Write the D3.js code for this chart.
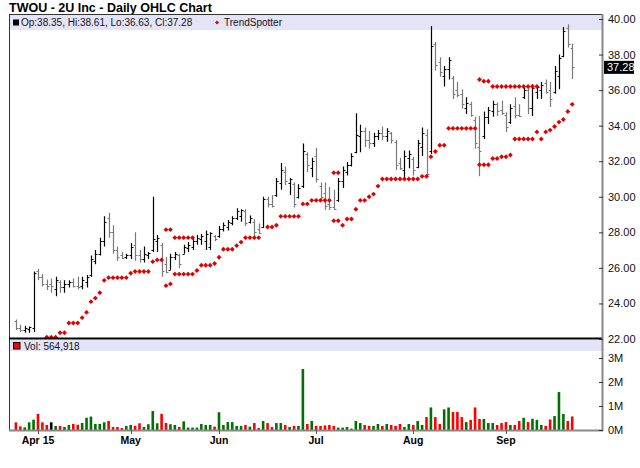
<!DOCTYPE html>
<html>
<head>
<meta charset="utf-8">
<script src="https://cdn.jsdelivr.net/npm/d3@7/dist/d3.min.js"></script>
<style>
  body { margin: 0; background: #fff; }
  text { font-family: "Liberation Sans", Arial, sans-serif; }
</style>
</head>
<body>
<svg id="chart" width="640" height="468"></svg>
<script>
var title = 'TWOU - 2U Inc - Daily OHLC Chart';
var firstDay = new Date(2015, 2, 25), lastDay = new Date(2015, 8, 23);
var holidays = ['2015-04-03', '2015-05-25', '2015-07-03', '2015-09-07'];
var _ = null;

var opens = [
  23.0, 22.6, 22.5, 22.55, 22.6, 25.8, 25.5, 25.1, 25.1, 24.8,
  25.2, 24.9, 25.1, 25.2, 25.0, 25.0, 25.2, 25.6, 26.4, 26.8,
  27.5, 28.8, 28.0, 27.0, 26.7, 26.6, 26.7, 27.3, 26.7, 26.5,
  26.7, 27.0, 27.5, 27.3, 26.2, 25.9, 26.6, 26.7, 26.8, 27.1,
  27.2, 27.5, 27.6, 27.5, 27.2, 27.8, 27.8, 28.2, 28.3, 28.5,
  28.8, 28.9, 29.2, 28.6, 28.6, 28.2, 28.3, 29.9, 29.6, 30.1,
  30.8, 31.4, 30.8, 30.7, 30.0, 30.6, 32.4, 31.6, 32.3, 30.6,
  30.2, 29.6, 29.4, 29.8, 30.9, 31.4, 31.8, 32.5, 33.4, 33.7,
  33.2, 33.0, 33.4, 33.6, 33.4, 33.6, 33.1, 31.9, 31.5, 32.2,
  32.1, 31.7, 32.8, 33.5, 32.6, 38.6, 37.6, 36.8, 37.2, 36.7,
  36.0, 35.8, 35.0, 35.2, 34.3, 32.8, 33.4, 34.5, 34.8, 35.2,
  34.9, 34.6, 34.2, 35.1, 34.6, 35.6, 36.0, 35.0, 35.9, 36.0,
  36.4, 36.0, 35.9, 36.8, 37.9, 39.5, 38.35
];
var highs = [
  23.1, 22.8, 22.75, 22.7, 25.8, 25.95, 25.65, 25.35, 25.4, 25.5,
  25.3, 25.3, 25.3, 25.4, 25.5, 25.5, 25.6, 26.7, 27.0, 27.7,
  28.9, 29.1, 28.4, 27.2, 26.9, 26.8, 27.4, 28.0, 27.0, 27.2,
  26.9, 30.0, 27.85, 27.4, 26.6, 26.8, 26.9, 26.8, 27.3, 27.45,
  27.7, 27.85, 27.9, 28.1, 28.0, 27.85, 28.35, 28.55, 28.7, 28.9,
  29.35, 29.3, 29.3, 28.95, 28.75, 28.5, 30.0, 30.0, 30.1, 31.05,
  31.9, 31.7, 31.05, 30.8, 30.7, 33.0, 32.5, 32.2, 32.75, 30.8,
  30.8, 30.55, 30.4, 31.05, 31.7, 31.95, 32.45, 34.7, 34.05, 33.9,
  33.7, 33.6, 33.75, 33.95, 33.85, 33.65, 33.2, 32.2, 32.6, 32.6,
  32.25, 33.2, 33.9, 33.8, 39.6, 38.7, 37.85, 37.35, 37.85, 36.8,
  36.45, 36.05, 35.6, 35.35, 34.5, 34.55, 34.8, 35.05, 35.4, 35.3,
  35.4, 34.75, 35.2, 35.6, 35.2, 36.2, 36.25, 36.35, 36.25, 36.45,
  36.6, 36.45, 37.35, 38.0, 39.55, 39.7, 38.61
];
var lows = [
  22.5, 22.4, 22.35, 22.35, 22.4, 25.3, 24.95, 24.75, 24.6, 24.4,
  24.6, 24.6, 24.9, 24.9, 24.8, 24.8, 24.9, 25.5, 26.2, 26.7,
  27.2, 27.7, 26.8, 26.4, 26.5, 26.5, 26.5, 26.4, 26.3, 26.3,
  26.5, 26.9, 26.9, 25.5, 25.7, 25.9, 26.45, 26.0, 26.8, 26.9,
  27.0, 27.3, 27.3, 27.0, 27.0, 27.5, 27.7, 28.05, 28.1, 28.4,
  28.7, 28.6, 28.35, 28.5, 27.7, 27.9, 28.25, 29.4, 29.4, 30.0,
  30.4, 30.65, 30.1, 29.4, 29.9, 30.5, 31.4, 31.1, 30.8, 29.8,
  29.25, 29.25, 29.25, 29.7, 30.5, 31.2, 31.7, 32.45, 32.5, 32.8,
  32.7, 32.8, 33.2, 33.2, 33.1, 33.0, 31.5, 31.5, 31.05, 31.6,
  31.2, 31.6, 32.3, 31.1, 32.4, 37.1, 36.75, 36.2, 36.6, 35.5,
  35.6, 34.95, 34.65, 34.5, 32.7, 31.15, 33.25, 34.1, 34.5, 34.55,
  34.6, 33.65, 34.1, 34.4, 34.5, 35.5, 34.65, 34.55, 35.5, 35.5,
  35.8, 35.05, 35.8, 36.05, 37.85, 38.4, 36.63
];
var closes = [
  22.6, 22.5, 22.6, 22.65, 25.7, 25.5, 25.1, 25.0, 25.0, 25.3,
  24.9, 25.1, 25.2, 25.0, 24.95, 25.3, 25.5, 26.5, 26.8, 27.5,
  28.6, 28.0, 27.0, 26.6, 26.55, 26.7, 27.2, 26.7, 26.5, 26.8,
  26.85, 27.6, 27.7, 25.8, 25.75, 26.6, 26.8, 26.2, 27.2, 27.3,
  27.5, 27.7, 27.8, 27.9, 27.95, 27.6, 28.2, 28.4, 28.6, 28.8,
  29.2, 29.25, 28.5, 28.8, 28.0, 27.95, 29.9, 29.6, 29.5, 30.9,
  31.5, 30.9, 31.0, 29.6, 30.5, 32.6, 31.8, 32.0, 31.0, 30.0,
  29.5, 29.4, 29.3, 30.9, 31.5, 31.8, 32.3, 33.5, 33.7, 33.2,
  33.0, 33.4, 33.6, 33.4, 33.7, 33.2, 31.8, 31.6, 32.3, 32.4,
  31.5, 33.0, 33.6, 31.3, 38.5, 37.4, 37.0, 37.2, 37.7, 35.8,
  35.7, 35.2, 35.3, 34.6, 33.0, 32.6, 34.5, 34.9, 35.2, 34.8,
  34.7, 33.9, 35.0, 34.6, 34.55, 36.0, 35.0, 36.1, 36.2, 36.3,
  35.9, 35.5, 37.1, 37.8, 39.3, 38.6, 37.28
];
// volume in thousands of shares
var volumes = [
  320, 150, 110, 320, 430, 670, 320, 210, 320, 170,
  170, 125, 210, 250, 220, 290, 510, 560, 250, 250,
  320, 375, 125, 125, 80, 170, 210, 170, 280, 125,
  240, 790, 280, 670, 290, 240, 210, 125, 360, 100,
  100, 100, 250, 210, 210, 140, 740, 210, 330, 330,
  170, 170, 210, 140, 290, 80, 375, 290, 125, 290,
  290, 210, 125, 170, 170, 2540, 250, 375, 170, 170,
  190, 210, 170, 100, 100, 125, 60, 375, 290, 210,
  170, 170, 250, 170, 250, 210, 170, 250, 125, 250,
  210, 375, 210, 540, 940, 540, 250, 860, 940, 750,
  750, 540, 330, 420, 940, 460, 460, 290, 290, 210,
  290, 330, 210, 210, 375, 510, 330, 470, 420, 210,
  170, 440, 580, 1580, 670, 375, 564.918
];
var trendLower = [
  _, _, _, _, _, _, _, 22.1, 22.1, 22.1,
  22.35, 22.35, 22.9, 22.9, 22.9, 23.2, 23.5, 24.1, 24.3, 24.6,
  25.3, 25.45, 25.45, 25.45, 25.45, 25.45, 25.7, 25.8, 25.8, 25.8,
  25.8, 26.35, 26.45, 26.45, 25.0, 25.1, 25.65, 25.65, 25.65, 25.65,
  25.65, 25.85, 26.15, 26.15, 26.15, 26.25, 26.6, 27.05, 27.05, 27.05,
  27.25, 27.45, 27.7, 27.7, 27.7, 27.7, _, 28.3, 28.3, 28.4,
  28.9, 28.9, 28.9, 28.9, 28.9, 29.6, 29.6, 29.8, 29.8, 29.8,
  29.8, 29.8, 28.65, 28.65, 28.4, 28.75, 28.75, 29.3, 29.8, 29.8,
  30.0, 30.15, 30.6, 31.0, 31.0, 31.0, 31.0, 31.0, 31.0, 31.0,
  31.0, 31.0, 31.15, 31.15, 32.25, 32.55, 32.9, 32.9, 33.85, 33.85,
  33.85, 33.85, 33.85, 33.85, 33.85, 31.8, 31.8, 31.8, 32.15, 32.15,
  32.25, 32.25, 32.35, 33.25, 33.25, 33.25, 33.25, 33.25, 33.65, 33.25,
  33.65, 33.75, 33.95, 34.2, 34.35, 34.8, 35.2
];
var trendUpper = [
  _, _, _, _, _, _, _, _, _, _,
  _, _, _, _, _, _, _, _, _, _,
  _, _, _, _, _, _, _, _, _, _,
  _, _, _, _, 28.15, 28.15, 27.7, 27.7, 27.7, 27.7,
  27.7, _, _, _, _, _, _, _, _, _,
  _, _, _, _, _, _, _, _, _, _,
  _, _, _, _, _, _, _, _, _, _,
  _, _, 31.35, 31.35, _, _, _, _, _, _,
  _, _, _, _, _, _, _, _, _, _,
  _, _, _, _, _, _, _, _, _, _,
  _, _, _, _, _, 36.6, 36.5, 36.5, 36.2, 36.2,
  36.2, 36.2, 36.2, 36.2, 36.2, 36.2, 36.2, 36.2, 36.2, _,
  _, _, _, _, _, _, _
];
var priceTicks = [22, 24, 26, 28, 30, 32, 34, 36, 38, 40];
var volumeTicks = [0, 1, 2, 3]; // millions

(function() {
    'use strict';

    var svg = d3.select('#chart');
    var LEFT = 10, RIGHT = 602;
    var PRICE_TOP = 15, PRICE_BOTTOM = 338.5;
    var VOL_TOP = 340, VOL_BOTTOM = 430;

    var fmtDay = d3.timeFormat('%Y-%m-%d');
    var days = d3.timeDay.range(firstDay, d3.timeDay.offset(lastDay, 1))
        .filter(d => d.getDay() % 6 !== 0 && holidays.indexOf(fmtDay(d)) < 0);

    var bars = days.map((d, i) => ({
        date: d,
        key: fmtDay(d),
        o: opens[i], h: highs[i], l: lows[i], c: closes[i],
        v: volumes[i],
        prev: i ? closes[i - 1] : opens[0],
        lo: trendLower[i], hi: trendUpper[i]
    }));

    var x = d3.scalePoint().domain(bars.map(b => b.key)).range([15.9, 572.2]);
    var yP = d3.scaleLinear().domain([22, 40]).range([339, 19]);
    var yV = d3.scaleLinear().domain([0, 3]).range([VOL_BOTTOM, 358]);

    // title
    svg.append('text').text(title)
        .attr('x', 9).attr('y', 12)
        .style('font-size', '12.5px').style('font-weight', 'bold');

    // legend bands
    svg.append('rect').attr('x', LEFT).attr('y', PRICE_TOP).attr('width', RIGHT - LEFT).attr('height', 15)
        .attr('fill', '#e4e4f8');
    svg.append('rect').attr('x', LEFT).attr('y', VOL_TOP).attr('width', RIGHT - LEFT).attr('height', 11)
        .attr('fill', '#e4e4f8');

    svg.append('defs').append('clipPath').attr('id', 'pclip')
        .append('rect').attr('x', LEFT).attr('y', PRICE_TOP).attr('width', RIGHT - LEFT)
        .attr('height', PRICE_BOTTOM - PRICE_TOP);

    var price = svg.append('g').attr('clip-path', 'url(#pclip)');

    // OHLC bars
    var px = d => Math.round(x(d.key)) + 0.5;
    var ohlc = price.selectAll('.ohlc').data(bars).enter().append('g')
        .attr('class', 'ohlc')
        .attr('stroke', d => d.c >= d.o ? '#000' : '#7a7a7a')
        .attr('stroke-width', 1.2);
    ohlc.append('line')
        .attr('x1', px).attr('x2', px)
        .attr('y1', d => yP(d.h)).attr('y2', d => yP(d.l));
    ohlc.append('line')
        .attr('x1', d => px(d) - 2).attr('x2', px)
        .attr('y1', d => Math.round(yP(d.o)) + 0.5).attr('y2', d => Math.round(yP(d.o)) + 0.5);
    ohlc.append('line')
        .attr('x1', px).attr('x2', d => px(d) + 2)
        .attr('y1', d => Math.round(yP(d.c)) + 0.5).attr('y2', d => Math.round(yP(d.c)) + 0.5);

    // TrendSpotter
    var diamond = d3.symbol().type(d3.symbolSquare).size(12);
    function dots(cls, acc) {
        price.selectAll('.' + cls).data(bars.filter(b => acc(b) != null)).enter()
            .append('path')
            .attr('class', cls)
            .attr('d', diamond)
            .attr('fill', '#e00000')
            .attr('transform', d => 'translate(' + x(d.key) + ',' + yP(acc(d)) + ') rotate(45)');
    }
    dots('tlo', d => d.lo);
    dots('thi', d => d.hi);

    // volume
    svg.selectAll('.vol').data(bars).enter().append('rect')
        .attr('class', 'vol')
        .attr('x', d => x(d.key) - 1.3)
        .attr('width', 2.6)
        .attr('y', d => yV(d.v / 1000))
        .attr('height', d => VOL_BOTTOM - yV(d.v / 1000))
        .attr('fill', d => d.c > d.prev ? '#007000' : d.c < d.prev ? '#ff0000' : '#000');

    // frame
    svg.append('line').attr('x1', LEFT - 0.5).attr('x2', LEFT - 0.5).attr('y1', PRICE_TOP - 1).attr('y2', VOL_BOTTOM + 1)
        .attr('stroke', '#333');
    svg.append('line').attr('x1', LEFT - 1).attr('x2', RIGHT).attr('y1', PRICE_TOP - 0.5).attr('y2', PRICE_TOP - 0.5)
        .attr('stroke', '#333');
    svg.append('line').attr('x1', LEFT - 1).attr('x2', RIGHT).attr('y1', PRICE_BOTTOM).attr('y2', PRICE_BOTTOM)
        .attr('stroke', '#000').attr('stroke-width', 2);
    svg.append('line').attr('x1', RIGHT + 0.5).attr('x2', RIGHT + 0.5).attr('y1', PRICE_TOP - 1).attr('y2', VOL_BOTTOM + 1)
        .attr('stroke', '#888').attr('stroke-width', 2);
    svg.append('line').attr('x1', LEFT - 1).attr('x2', RIGHT + 1).attr('y1', VOL_BOTTOM + 0.5).attr('y2', VOL_BOTTOM + 0.5)
        .attr('stroke', '#888').attr('stroke-width', 2);

    // right axes
    var pAxis = svg.append('g').attr('transform', 'translate(' + (RIGHT + 1) + ',0)')
        .call(d3.axisRight(yP).tickValues(priceTicks).tickFormat(d3.format('.2f')).tickSize(-4).tickPadding(5));
    var vAxis = svg.append('g').attr('transform', 'translate(' + (RIGHT + 1) + ',0)')
        .call(d3.axisRight(yV).tickValues(volumeTicks).tickFormat(d => d + 'M').tickSize(-4).tickPadding(5));
    [pAxis, vAxis].forEach(a => {
        a.select('.domain').remove();
        a.attr('font-family', null).attr('font-size', null);
        a.selectAll('text').style('font-size', '11px').attr('fill', '#111');
        a.selectAll('line').attr('stroke', '#333');
    });

    // last price tag
    var last = bars[bars.length - 1];
    svg.append('rect').attr('x', RIGHT + 2).attr('y', yP(last.c) - 6.5).attr('width', 30).attr('height', 13)
        .attr('fill', '#000');
    svg.append('text').attr('x', RIGHT + 5).attr('y', yP(last.c) + 4)
        .style('font-size', '11px').attr('fill', '#fff')
        .text(d3.format('.2f')(last.c));

    // bottom month labels
    var months = bars.filter((b, i) => i > 0 && b.date.getMonth() !== bars[i - 1].date.getMonth());
    var xAxis = svg.append('g');
    xAxis.selectAll('line').data(months).enter().append('line')
        .attr('x1', px).attr('x2', px)
        .attr('y1', VOL_BOTTOM).attr('y2', VOL_BOTTOM + 4)
        .attr('stroke', '#555');
    xAxis.selectAll('text').data(months).enter().append('text')
        .attr('x', d => x(d.key)).attr('y', 444)
        .attr('text-anchor', 'middle')
        .style('font-size', '10.5px').style('font-weight', 'bold')
        .text((d, i) => d3.timeFormat(i ? '%b' : '%b %y')(d.date));

    // legends
    svg.append('rect').attr('x', 13).attr('y', 19.5).attr('width', 6).attr('height', 6).attr('fill', '#000');
    svg.append('text').attr('x', 21).attr('y', 26).style('font-size', '10px').attr('fill', '#111')
        .text('Op:' + last.o.toFixed(2) + ', Hi:' + last.h.toFixed(2) + ', Lo:' + last.l.toFixed(2) +
              ', Cl:' + last.c.toFixed(2));
    svg.append('path').attr('d', d3.symbol().type(d3.symbolSquare).size(8)).attr('fill', '#e00000')
        .attr('transform', 'translate(217,22.5) rotate(45)');
    svg.append('text').attr('x', 224).attr('y', 26).style('font-size', '10px').attr('fill', '#111')
        .text('TrendSpotter');

    svg.append('rect').attr('x', 13.5).attr('y', 342.5).attr('width', 6.5).attr('height', 6.5)
        .attr('fill', '#ff0000').attr('stroke', '#000');
    svg.append('text').attr('x', 24).attr('y', 349.5).style('font-size', '10px').attr('fill', '#111')
        .text('Vol: ' + d3.format(',')(Math.round(last.v * 1000)));
})();
</script>
</body>
</html>
